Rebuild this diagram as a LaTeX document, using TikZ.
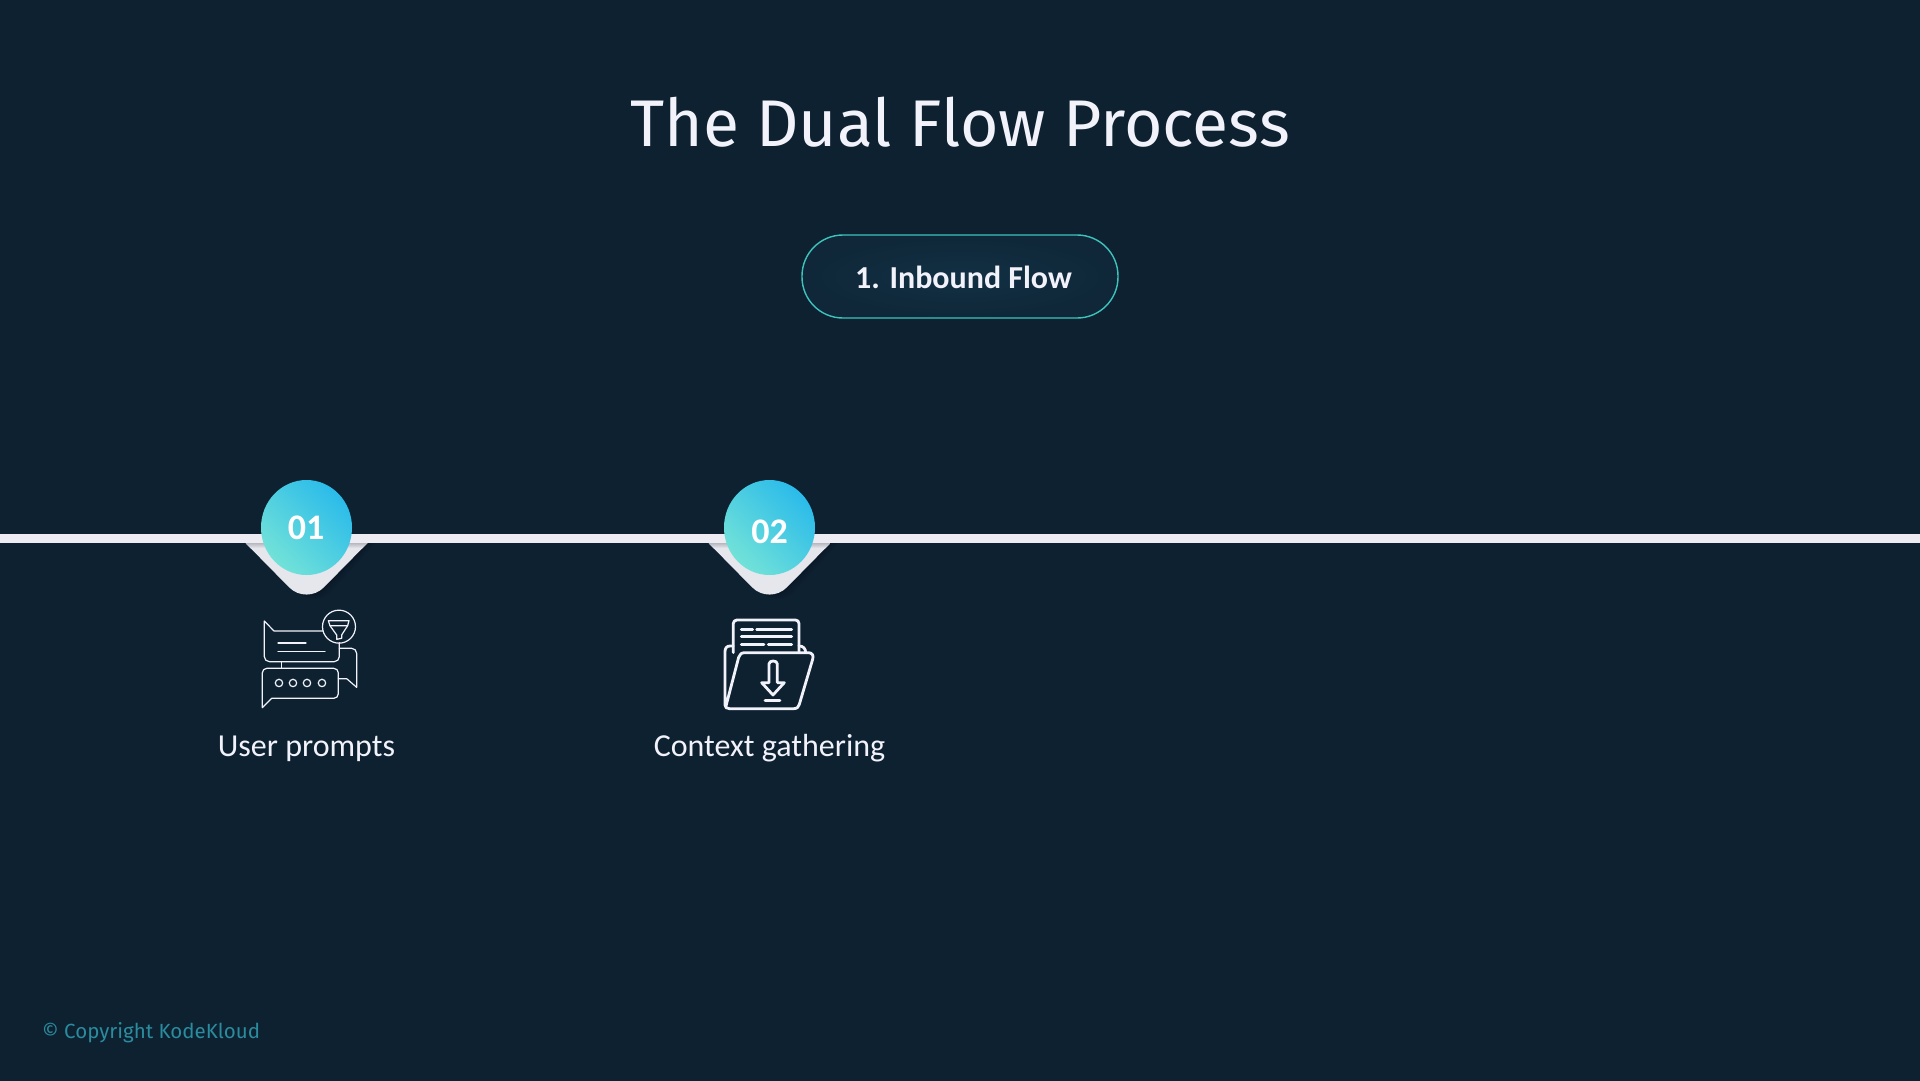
\documentclass[tikz,border=0pt]{standalone}
\usepackage{fontspec}
\setmainfont{Carlito}
\newfontfamily\titlefont{Fira Sans}
\newfontfamily\footfont{Fira Sans}
\usetikzlibrary{calc}
\definecolor{bgc}{HTML}{0E2131}
\definecolor{railc}{HTML}{ECECF2}
\definecolor{tric}{HTML}{E6E6ED}
\definecolor{bandc}{HTML}{B8B8C0}
\definecolor{tealc}{HTML}{72E2D8}
\definecolor{bluec}{HTML}{2BBBEA}
\definecolor{pillc}{HTML}{3EC3BC}
\definecolor{pillf}{HTML}{123044}
\definecolor{pillo}{HTML}{0F2738}
\definecolor{textc}{HTML}{F2F2FA}
\definecolor{footc}{HTML}{2A8C9E}
\tikzset{
  px/.style={x=1pt,y=-1pt},
  label/.style={text=textc,inner sep=0pt,anchor=base,font=\fontsize{32}{36}\selectfont},
  num/.style={text=white,inner sep=0pt,anchor=base,font=\fontsize{36}{42}\bfseries\selectfont},
  thinicon/.style={draw=textc,line width=1.2pt,line join=round,line cap=round},
  thickicon/.style={draw=textc,line width=2.8pt,line join=round,line cap=round},
  badge/.style={left color=tealc,right color=bluec,shading angle=135},
}
\newcommand{\marker}[1]{%
  \begin{scope}[shift={(#1,0)}]
    \foreach \d/\o in {8/0.03,6/0.04,4/0.05,2/0.07}{
      \fill[black,opacity=\o] (-61+\d,543) [rounded corners=25pt] -- (0+\d,605+\d*0.6) [sharp corners] -- (61+\d,543) -- cycle;
    }
    \begin{scope}
      \clip (-61,543) [rounded corners=25pt] -- (0,605) [sharp corners] -- (61,543) -- cycle;
      \fill[tric] (-61,543) rectangle (61,610);
      \shade[top color=bandc,bottom color=tric] (-61,543) rectangle (61,548);
    \end{scope}
    \shade[badge] (0,527.5) ellipse [x radius=45.5, y radius=47.5];
  \end{scope}}
\begin{document}
\begin{tikzpicture}[px]
\useasboundingbox (0,0) rectangle (1920,1080);
\fill[bgc] (-3,-3) rectangle (1923,1083);
% rail
\fill[railc] (0,534) rectangle (1920,543);
\marker{306.5}
\marker{769.5}
% title
\node[text=textc,inner sep=0pt,anchor=base,font=\titlefont\fontsize{66}{70}\selectfont] (title) at (960,146) {The Dual Flow Process};
% pill
\node[draw=pillc,line width=1.4pt,inner color=pillf,outer color=pillo,rounded corners=41pt,minimum width=316pt,minimum height=83pt,inner sep=0pt] (pill) at (960,276.5) {};
\node[text=textc,inner sep=0pt,anchor=base,font=\fontsize{32}{36}\bfseries\selectfont] (pilltext) at (963.5,288) {1. Inbound Flow};
% numbers
\node[num] (n1) at (306,539.5) {01};
\node[num] (n2) at (769.5,543) {02};
% labels
\node[label] (l1) at (306.5,756) {User prompts};
\node[label] (l2) at (769.5,756) {Context gathering};
% footer
\node[text=footc,inner sep=0pt,anchor=base west,font=\footfont\fontsize{20.5}{24}\selectfont] (foot) at (42,1038) {© Copyright KodeKloud};
% icon 1
\begin{scope}[shift={(200,460)},x=0.3333pt,y=-0.3333pt,thinicon]
  \draw (368,513) -- (222,513) -- (193,483) [rounded corners=5pt] -- (193,605) -- (418,605) -- (418,548);
  \draw (234,549) -- (318,549) (234,574) -- (375,574);
  \draw (244,605) -- (244,625);
  \draw (187,743) -- (215,715) [rounded corners=4.5pt] -- (415,715) -- (415,625) -- (187,625) -- (187,743);
  \draw[rounded corners=5pt] (418,565) -- (470,565) -- (470,650) [sharp corners] -- (470,682) -- (440,656) -- (415,656);
  \draw (417,500) circle[radius=16.5pt];
  \draw (385,482) -- (447,482) -- (443,497) -- (390,497) -- cycle;
  \draw (390,497) -- (410,525) -- (410,538) -- (425,535) -- (425,525) -- (443,497);
  \foreach \cx in {237,279,321,366} \draw (\cx,669) circle[radius=3.7pt];
\end{scope}
% icon 2
\begin{scope}[shift={(650,460)},x=0.3333pt,y=-0.3333pt,thickicon]
  \draw[rounded corners=3.5pt] (250,578) -- (250,480) -- (447,480) -- (447,578);
  \draw (274,508) -- (308,508) (320,508) -- (425,508) (274,530) -- (425,530) (274,553) -- (342,553) (355,553) -- (425,553);
  \draw (250,558) -- (240,558) .. controls (230,558) and (225,565) .. (225,575) -- (225,735) .. controls (225,742) and (230,746) .. (238,746) -- (432,746) .. controls (442,746) and (446,740) .. (448,733) -- (488,598) .. controls (492,586) and (486,578) .. (475,578) -- (285,578) .. controls (275,578) and (268,583) .. (266,592) -- (228,738);
  \draw (447,558) .. controls (460,558) and (467,566) .. (467,578);
  \draw (357,668) -- (357,612) .. controls (357,600) and (382,600) .. (382,612) -- (382,668) -- (403,668) -- (369,705) -- (335,668) -- (357,668);
  \draw (345,721) -- (390,721);
\end{scope}
\end{tikzpicture}
\end{document}
